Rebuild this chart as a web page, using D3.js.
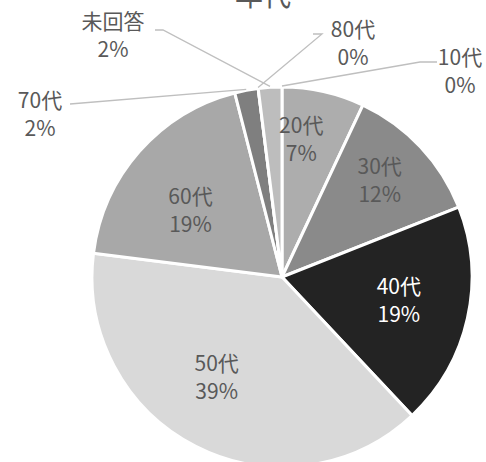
<!DOCTYPE html>
<html><head><meta charset="utf-8">
<script src="https://cdn.jsdelivr.net/npm/d3@7"></script>
<style>body{margin:0;background:#fff;}svg{display:block;}</style>
</head><body>
<svg id="c" width="486" height="462"></svg>
<script>
const categories = ["10代","20代","30代","40代","50代","60代","70代","80代","未回答"];
const values = [0, 7, 12, 19, 39, 19, 2, 0, 2];
const percentLabels = ["0%","7%","12%","19%","39%","19%","2%","0%","2%"];
const colors = ["#9a9a9a","#adadad","#8a8a8a","#232323","#d9d9d9","#a8a8a8","#7f7f7f","#999999","#bdbdbd"];
const title = "年代";

const svg = d3.select("#c");
const cx = 282, cy = 277, R = 190;
const g = svg.append("g").attr("transform", `translate(${cx},${cy})`);
const pie = d3.pie().sort(null).value(d => d)(values);
const arc = d3.arc().innerRadius(0).outerRadius(R);

g.selectAll("path").data(pie).join("path")
  .attr("d", arc)
  .attr("fill", (d,i) => colors[i])
  .attr("stroke", "#fff").attr("stroke-width", 3).attr("stroke-linejoin","round");

const font = "'Noto Sans CJK JP','Noto Sans',sans-serif";
const fs = 21, lh = 28;
svg.append("text").attr("x", 263).attr("y", 6).attr("text-anchor","middle")
  .attr("font-family", font).attr("font-size", 28).attr("fill","#595959").text(title);

// inside labels: radius fraction + small nudge
const inside = {1:[0.73,-11,-2], 2:[0.72,-2,-2], 3:[0.63,0,-2], 4:[0.63,-11,-6], 5:[0.6,-6,9]};
const outside = {
  0: {x:460, y:72, line:[[437,62],[420,62]]},
  6: {x:40, y:115, line:[[70,104]]},
  7: {x:353, y:44, line:[[313,34],[322,34]]},
  8: {x:113, y:36, line:[[155,30],[163,30]]}
};
pie.forEach((d,i) => {
  let x, y;
  const a = (d.startAngle + d.endAngle)/2;
  if (inside[i] !== undefined) {
    const [f, ox, oy] = inside[i];
    x = cx + R*f*Math.sin(a) + ox; y = cy - R*f*Math.cos(a) + oy;
  } else {
    const o = outside[i];
    x = o.x; y = o.y;
    const ex = cx + (R+1)*Math.sin(a), ey = cy - (R+1)*Math.cos(a);
    const pts = o.line.slice();
    pts.push([ex, ey]);
    svg.append("path").attr("d", d3.line()(pts))
      .attr("fill","none").attr("stroke","#bfbfbf").attr("stroke-width",1.3);
  }
  const t = svg.append("text").attr("text-anchor","middle")
    .attr("font-family", font).attr("font-size", fs).attr("fill", i===3 ? "#ffffff" : "#595959");
  t.append("tspan").attr("x", x).attr("y", y - lh/2 + 7).text(categories[i]);
  t.append("tspan").attr("x", x).attr("y", y + lh/2 + 7).text(percentLabels[i]);
});
</script>
</body></html>
